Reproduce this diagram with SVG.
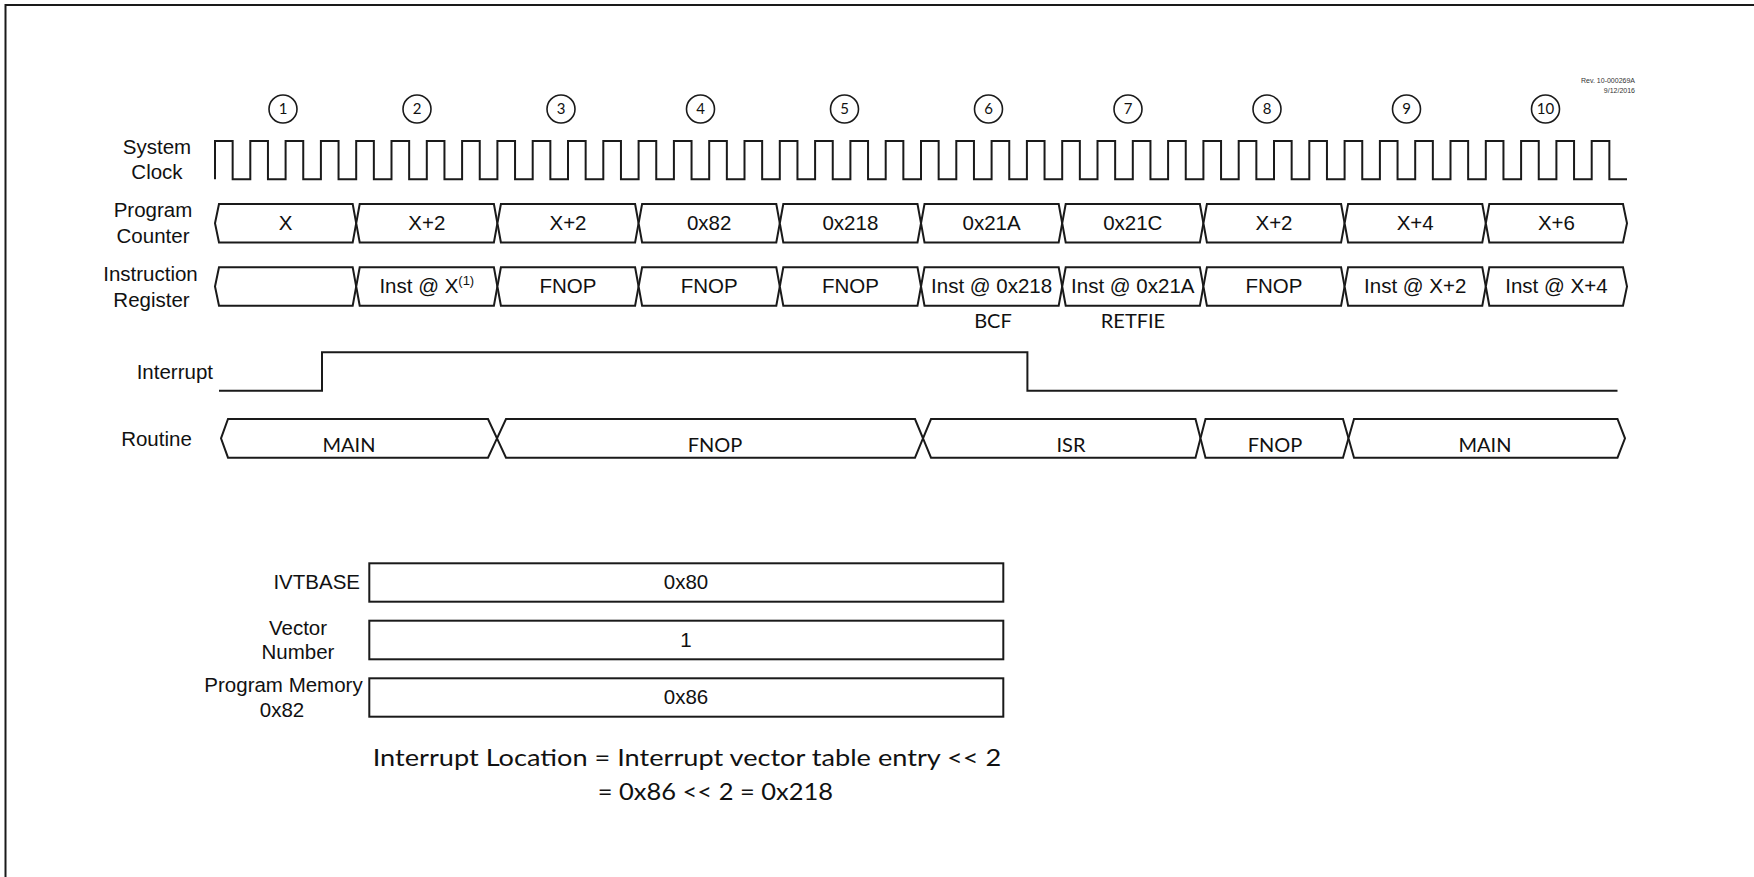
<svg xmlns="http://www.w3.org/2000/svg" width="1754" height="877" viewBox="0 0 1754 877">
<style>
.bg{fill:#fff}
.ln{fill:none;stroke:#1a1a1a;stroke-width:2;stroke-linejoin:miter}
.box{fill:#fff;stroke:#1a1a1a;stroke-width:2}
.cir{fill:#fff;stroke:#1a1a1a;stroke-width:1.6}
.a{font-family:"Liberation Sans",Arial,sans-serif;font-size:20.5px;fill:#111;text-anchor:middle}
.r{text-anchor:end}
.c{font-family:Lato,"Open Sans",sans-serif;font-size:20px;fill:#111;text-anchor:middle}
.n{font-family:Lato,"Open Sans",sans-serif;font-size:15px;fill:#111;text-anchor:middle}
.rev{font-family:"Liberation Sans",Arial,sans-serif;font-size:7px;fill:#333;text-anchor:end}
.eq{font-family:Lato,"Open Sans",sans-serif;font-size:24px;fill:#111}
</style>
<rect class="bg" x="0" y="0" width="1754" height="877"/>
<g id="frame"><path class="ln" d="M5.5,877 V5 H1754" stroke-width="2.2"/></g>
<g id="rev"><text class="rev" x="1635" y="83">Rev. 10-000269A</text><text class="rev" x="1635" y="93">9/12/2016</text></g>
<g id="cycles">
<g id="c1"><circle class="cir" cx="283" cy="109" r="14"/><text class="n" x="283" y="114">1</text></g>
<g id="c2"><circle class="cir" cx="417" cy="109" r="14"/><text class="n" x="417" y="114">2</text></g>
<g id="c3"><circle class="cir" cx="561" cy="109" r="14"/><text class="n" x="561" y="114">3</text></g>
<g id="c4"><circle class="cir" cx="700.5" cy="109" r="14"/><text class="n" x="700.5" y="114">4</text></g>
<g id="c5"><circle class="cir" cx="844.5" cy="109" r="14"/><text class="n" x="844.5" y="114">5</text></g>
<g id="c6"><circle class="cir" cx="988.5" cy="109" r="14"/><text class="n" x="988.5" y="114">6</text></g>
<g id="c7"><circle class="cir" cx="1128" cy="109" r="14"/><text class="n" x="1128" y="114">7</text></g>
<g id="c8"><circle class="cir" cx="1267" cy="109" r="14"/><text class="n" x="1267" y="114">8</text></g>
<g id="c9"><circle class="cir" cx="1406.5" cy="109" r="14"/><text class="n" x="1406.5" y="114">9</text></g>
<g id="c10"><circle class="cir" cx="1545.5" cy="109" r="14"/><text class="n" x="1545.5" y="114">10</text></g>
</g>
<g id="labels">
<text class="a" x="157" y="154">System</text><text class="a" x="157" y="179">Clock</text>
<text class="a" x="153" y="217">Program</text><text class="a" x="153" y="242.5">Counter</text>
<text class="a" x="150.5" y="281">Instruction</text><text class="a" x="151.5" y="306.5">Register</text>
<text class="a r" x="213" y="379">Interrupt</text>
<text class="a" x="156.5" y="446">Routine</text>
</g>
<g id="clock"><path class="ln" d="M215,179.3
v-38.3h17.65v38.3h17.65 v-38.3h17.65v38.3h17.65 v-38.3h17.65v38.3h17.65 v-38.3h17.65v38.3h17.65
v-38.3h17.65v38.3h17.65 v-38.3h17.65v38.3h17.65 v-38.3h17.65v38.3h17.65 v-38.3h17.65v38.3h17.65
v-38.3h17.65v38.3h17.65 v-38.3h17.65v38.3h17.65 v-38.3h17.65v38.3h17.65 v-38.3h17.65v38.3h17.65
v-38.3h17.65v38.3h17.65 v-38.3h17.65v38.3h17.65 v-38.3h17.65v38.3h17.65 v-38.3h17.65v38.3h17.65
v-38.3h17.65v38.3h17.65 v-38.3h17.65v38.3h17.65 v-38.3h17.65v38.3h17.65 v-38.3h17.65v38.3h17.65
v-38.3h17.65v38.3h17.65 v-38.3h17.65v38.3h17.65 v-38.3h17.65v38.3h17.65 v-38.3h17.65v38.3h17.65
v-38.3h17.65v38.3h17.65 v-38.3h17.65v38.3h17.65 v-38.3h17.65v38.3h17.65 v-38.3h17.65v38.3h17.65
v-38.3h17.65v38.3h17.65 v-38.3h17.65v38.3h17.65 v-38.3h17.65v38.3h17.65 v-38.3h17.65v38.3h17.65
v-38.3h17.65v38.3h17.65 v-38.3h17.65v38.3h17.65 v-38.3h17.65v38.3h17.65 v-38.3h17.65v38.3h17.65
v-38.3h17.65v38.3h17.65 v-38.3h17.65v38.3h17.65 v-38.3h17.65v38.3h17.65 v-38.3h17.65v38.3h17.65"/></g>
<g id="pc">
<polygon class="box" points="215,223.25 219,204 352.7,204 356.2,223.25 352.7,242.5 219,242.5"/>
<polygon class="box" points="356.2,223.25 359.7,204 493.9,204 497.4,223.25 493.9,242.5 359.7,242.5"/>
<polygon class="box" points="497.4,223.25 500.9,204 635.1,204 638.6,223.25 635.1,242.5 500.9,242.5"/>
<polygon class="box" points="638.6,223.25 642.1,204 776.3,204 779.8,223.25 776.3,242.5 642.1,242.5"/>
<polygon class="box" points="779.8,223.25 783.3,204 917.5,204 921,223.25 917.5,242.5 783.3,242.5"/>
<polygon class="box" points="921,223.25 924.5,204 1058.7,204 1062.2,223.25 1058.7,242.5 924.5,242.5"/>
<polygon class="box" points="1062.2,223.25 1065.7,204 1199.9,204 1203.4,223.25 1199.9,242.5 1065.7,242.5"/>
<polygon class="box" points="1203.4,223.25 1206.9,204 1341.1,204 1344.6,223.25 1341.1,242.5 1206.9,242.5"/>
<polygon class="box" points="1344.6,223.25 1348.1,204 1482.3,204 1485.8,223.25 1482.3,242.5 1348.1,242.5"/>
<polygon class="box" points="1485.8,223.25 1489.3,204 1623,204 1627,223.25 1623,242.5 1489.3,242.5"/>
<text class="a" x="285.6" y="230">X</text>
<text class="a" x="426.8" y="230">X+2</text>
<text class="a" x="568" y="230">X+2</text>
<text class="a" x="709.2" y="230">0x82</text>
<text class="a" x="850.4" y="230">0x218</text>
<text class="a" x="991.6" y="230">0x21A</text>
<text class="a" x="1132.8" y="230">0x21C</text>
<text class="a" x="1274" y="230">X+2</text>
<text class="a" x="1415.2" y="230">X+4</text>
<text class="a" x="1556.4" y="230">X+6</text>
</g>
<g id="ir">
<polygon class="box" points="215,286.5 219,267.3 352.7,267.3 356.2,286.5 352.7,305.7 219,305.7"/>
<polygon class="box" points="356.2,286.5 359.7,267.3 493.9,267.3 497.4,286.5 493.9,305.7 359.7,305.7"/>
<polygon class="box" points="497.4,286.5 500.9,267.3 635.1,267.3 638.6,286.5 635.1,305.7 500.9,305.7"/>
<polygon class="box" points="638.6,286.5 642.1,267.3 776.3,267.3 779.8,286.5 776.3,305.7 642.1,305.7"/>
<polygon class="box" points="779.8,286.5 783.3,267.3 917.5,267.3 921,286.5 917.5,305.7 783.3,305.7"/>
<polygon class="box" points="921,286.5 924.5,267.3 1058.7,267.3 1062.2,286.5 1058.7,305.7 924.5,305.7"/>
<polygon class="box" points="1062.2,286.5 1065.7,267.3 1199.9,267.3 1203.4,286.5 1199.9,305.7 1065.7,305.7"/>
<polygon class="box" points="1203.4,286.5 1206.9,267.3 1341.1,267.3 1344.6,286.5 1341.1,305.7 1206.9,305.7"/>
<polygon class="box" points="1344.6,286.5 1348.1,267.3 1482.3,267.3 1485.8,286.5 1482.3,305.7 1348.1,305.7"/>
<polygon class="box" points="1485.8,286.5 1489.3,267.3 1623,267.3 1627,286.5 1623,305.7 1489.3,305.7"/>
<text class="a" x="426.8" y="293.3">Inst @ X<tspan font-size="13" dy="-8">(1)</tspan></text>
<text class="a" x="568" y="293.3">FNOP</text>
<text class="a" x="709.2" y="293.3">FNOP</text>
<text class="a" x="850.4" y="293.3">FNOP</text>
<text class="a" x="991.6" y="293.3">Inst @ 0x218</text>
<text class="a" x="1132.8" y="293.3">Inst @ 0x21A</text>
<text class="a" x="1274" y="293.3">FNOP</text>
<text class="a" x="1415.2" y="293.3">Inst @ X+2</text>
<text class="a" x="1556.4" y="293.3">Inst @ X+4</text>
<text class="c" x="993" y="327.7">BCF</text>
<text class="c" x="1133" y="327.7">RETFIE</text>
</g>
<g id="interrupt"><path class="ln" d="M219,390.7 H322 V352.3 H1027.4 V390.7 H1617.5"/></g>
<g id="routine">
<polygon class="box" points="221,438.35 228,419 488,419 497,438.35 488,457.7 228,457.7"/>
<polygon class="box" points="497,438.35 506,419 915,419 923,438.35 915,457.7 506,457.7"/>
<polygon class="box" points="923,438.35 931,419 1195.5,419 1200.5,438.35 1195.5,457.7 931,457.7"/>
<polygon class="box" points="1200.5,438.35 1205.5,419 1343,419 1348.5,438.35 1343,457.7 1205.5,457.7"/>
<polygon class="box" points="1348.5,438.35 1354,419 1617.5,419 1625,438.35 1617.5,457.7 1354,457.7"/>
<text class="c" x="349" y="452">MAIN</text>
<text class="c" x="715" y="452">FNOP</text>
<text class="c" x="1071" y="452">ISR</text>
<text class="c" x="1275" y="452">FNOP</text>
<text class="c" x="1485" y="452">MAIN</text>
</g>
<g id="ivtbase"><rect class="box" x="369.3" y="563.3" width="634" height="38.4"/><text class="a" x="686" y="589">0x80</text><text class="a r" x="360" y="589">IVTBASE</text></g>
<g id="vector"><rect class="box" x="369.3" y="620.7" width="634" height="38.6"/><text class="a" x="686" y="646.7">1</text><text class="a" x="298" y="635">Vector</text><text class="a" x="298" y="659.3">Number</text></g>
<g id="progmem"><rect class="box" x="369.3" y="678.3" width="634" height="38.4"/><text class="a" x="686" y="704.3">0x86</text><text class="a" x="283.5" y="691.7">Program Memory</text><text class="a" x="282" y="717.3">0x82</text></g>
<g id="equation">
<text class="eq" x="372.7" y="765.7" textLength="628.6" lengthAdjust="spacingAndGlyphs">Interrupt Location = Interrupt vector table entry &lt;&lt; 2</text>
<text class="eq" x="597.8" y="800" textLength="235.2" lengthAdjust="spacingAndGlyphs">= 0x86 &lt;&lt; 2 = 0x218</text>
</g>
</svg>
